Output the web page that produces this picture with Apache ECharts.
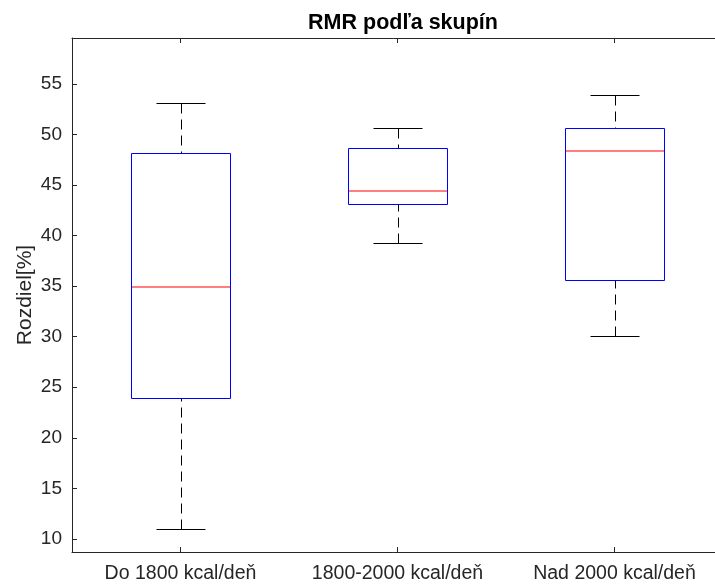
<!DOCTYPE html>
<html>
<head>
<meta charset="utf-8">
<script src="https://cdn.jsdelivr.net/npm/echarts@6/dist/echarts.min.js"></script>
<style>
html,body{margin:0;padding:0;background:#fff;}
#chart{width:715px;height:584px;}
</style>
</head>
<body>
<div id="chart"></div>
<script>
const categories = ['Do 1800 kcal/deň', '1800-2000 kcal/deň', 'Nad 2000 kcal/deň'];
const lowerWhisker = [11.0, 39.3, 30.1];
const q1 = [23.9, 43.1, 35.6];
const median = [34.9, 44.4, 48.4];
const q3 = [48.2, 48.7, 50.6];
const upperWhisker = [53.1, 50.6, 53.9];
const yTicks = [10, 15, 20, 25, 30, 35, 40, 45, 50, 55];

const boxData = categories.map((c, i) => [i, lowerWhisker[i], q1[i], q3[i], upperWhisker[i]]);
const medianData = categories.map((c, i) => [i, median[i]]);

const axisColor = '#262626';
const fontFamily = '"Liberation Sans", Arial, Helvetica, sans-serif';

const chart = echarts.init(document.getElementById('chart'), null, {renderer: 'canvas'});

function px(v) { return Math.round(v) + 0.5; }

chart.setOption({
  animation: false,
  backgroundColor: '#fff',
  color: ['#0000ff', '#ff0000'],
  title: {
    text: 'RMR podľa skupín',
    left: 398,
    textAlign: 'center',
    top: 7,
    textStyle: {fontFamily: fontFamily, fontSize: 21.5, fontWeight: 'bold', color: '#000'}
  },
  grid: {left: 72, top: 38, width: 651, height: 514, containLabel: false, outerBoundsMode: 'none'},
  xAxis: [{
    type: 'category',
    data: categories,
    position: 'bottom',
    boundaryGap: true,
    axisLine: {show: true, lineStyle: {color: axisColor, width: 1}},
    axisTick: {show: true, inside: true, alignWithLabel: true, length: 5, lineStyle: {color: axisColor}},
    axisLabel: {fontFamily: fontFamily, fontSize: 19.5, color: axisColor, margin: 12, interval: 0},
    splitLine: {show: false}
  }, {
    type: 'category',
    data: categories,
    position: 'top',
    boundaryGap: true,
    axisLine: {show: true, lineStyle: {color: axisColor, width: 1}},
    axisTick: {show: true, inside: true, alignWithLabel: true, length: 5, lineStyle: {color: axisColor}},
    axisLabel: {show: false},
    splitLine: {show: false}
  }],
  yAxis: [{
    type: 'value',
    min: 8.7,
    max: 59.55,
    splitNumber: 10,
    name: 'Rozdiel[%]',
    nameLocation: 'middle',
    nameGap: 36,
    nameMoveOverlap: false,
    nameTextStyle: {fontFamily: fontFamily, fontSize: 21, color: axisColor},
    axisLine: {show: true, lineStyle: {color: axisColor, width: 1}},
    axisTick: {show: true, inside: true, length: 5, lineStyle: {color: axisColor}},
    axisLabel: {
      fontFamily: fontFamily, fontSize: 19, color: axisColor, margin: 10,
      showMinLabel: false, showMaxLabel: false,
      formatter: function (v) { return yTicks.indexOf(Math.round(v * 1000) / 1000) >= 0 ? String(v) : ''; }
    },
    splitLine: {show: false}
  }],
  series: [{
    type: 'custom',
    name: 'box',
    xAxisIndex: 0,
    yAxisIndex: 0,
    encode: {x: 0, y: [1, 2, 3, 4]},
    data: boxData,
    itemStyle: {color: '#0000ff'},
    renderItem: function (params, api) {
      const xi = api.value(0);
      const pLow = api.coord([xi, api.value(1)]);
      const pQ1 = api.coord([xi, api.value(2)]);
      const pQ3 = api.coord([xi, api.value(3)]);
      const pHigh = api.coord([xi, api.value(4)]);
      const band = api.size([1, 0])[0];
      const bw = band * 0.452;
      const cw = band * 0.226;
      const cx = px(pQ1[0]);
      const whisk = {stroke: '#000000', lineWidth: 1, lineDash: [10, 6]};
      const solid = {stroke: '#000000', lineWidth: 1};
      const yLow = px(pLow[1]), yQ1 = px(pQ1[1]), yQ3 = px(pQ3[1]), yHigh = px(pHigh[1]);
      const bx1 = px(pQ1[0] - bw / 2), bx2 = px(pQ1[0] + bw / 2);
      return {
        type: 'group',
        children: [
          {type: 'line', shape: {x1: cx, y1: yHigh, x2: cx, y2: yQ3}, style: whisk},
          {type: 'line', shape: {x1: cx, y1: yLow, x2: cx, y2: yQ1}, style: whisk},
          {type: 'line', shape: {x1: px(pQ1[0] - cw / 2), y1: yHigh, x2: px(pQ1[0] + cw / 2), y2: yHigh}, style: solid},
          {type: 'line', shape: {x1: px(pQ1[0] - cw / 2), y1: yLow, x2: px(pQ1[0] + cw / 2), y2: yLow}, style: solid},
          {type: 'rect', shape: {x: bx1, y: yQ3, width: bx2 - bx1, height: yQ1 - yQ3}, style: {fill: null, stroke: '#0000ff', lineWidth: 1}}
        ]
      };
    }
  }, {
    type: 'custom',
    name: 'median',
    xAxisIndex: 0,
    yAxisIndex: 0,
    encode: {x: 0, y: 1},
    data: medianData,
    z: 5,
    itemStyle: {color: '#ff0000'},
    renderItem: function (params, api) {
      const xi = api.value(0);
      const p = api.coord([xi, api.value(1)]);
      const band = api.size([1, 0])[0];
      const bw = band * 0.452;
      const x1 = px(p[0] - bw / 2) + 0.5, x2 = px(p[0] + bw / 2) - 0.5;
      const y = Math.round(p[1]);
      return {
        type: 'line',
        shape: {x1: x1, y1: y, x2: x2, y2: y},
        style: {stroke: '#ff0000', lineWidth: 1.2}
      };
    }
  }]
});
</script>
</body>
</html>
